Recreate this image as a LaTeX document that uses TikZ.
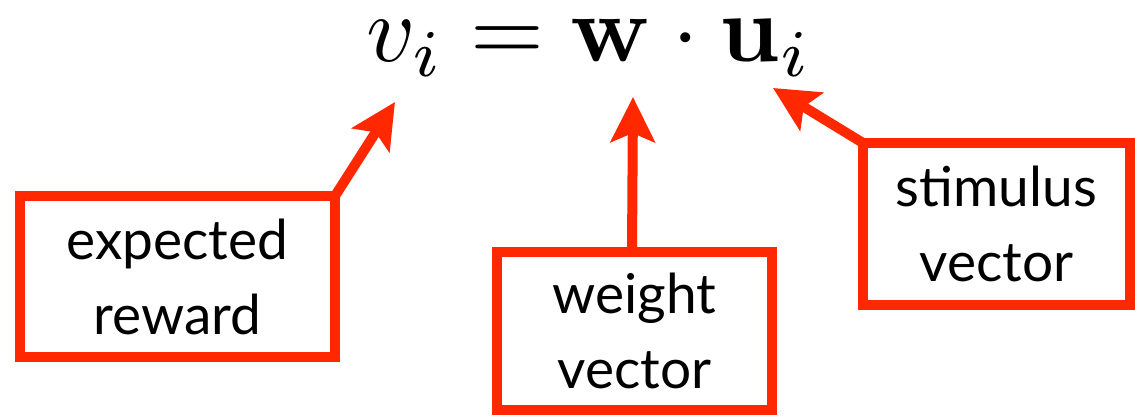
\documentclass[tikz,border=0pt]{standalone}
\usepackage[no-math]{fontspec}
\setmainfont{Lato}
\usetikzlibrary{arrows.meta}
\definecolor{boxred}{RGB}{255,40,0}
\begin{document}
\begin{tikzpicture}[x=1pt,y=-1pt,
  labelbox/.style={draw=boxred,line width=10pt,rectangle,inner sep=0pt,outer sep=0pt,
    align=center,font=\fontsize{55}{75}\selectfont,text=black},
  pointer/.style={draw=boxred,line width=10pt,
    -{Stealth[length=45pt,width=44pt,inset=9pt]}}]
\useasboundingbox (0,0) rectangle (1135,417);
\node[scale=9.5,anchor=base,inner sep=0pt] (eq) at (589,62) {$v_i = \mathbf{w}\cdot\mathbf{u}_i$};
\node[labelbox,minimum width=315pt,minimum height=161pt] (b1) at (177.5,276.5) {expected\\reward};
\node[labelbox,minimum width=275pt,minimum height=158pt] (b2) at (634.5,331) {weight\\vector};
\node[labelbox,minimum width=267pt,minimum height=162pt] (b3) at (996.5,224) {stimulus\\vector};
\coordinate (t1) at (395,102);
\coordinate (t2) at (633,97);
\coordinate (t3) at (773,88);
\coordinate (s2) at (632,252);
\draw[pointer] (b1.north east) -- (t1);
\draw[pointer] (s2) -- (t2);
\draw[pointer] (b3.north west) -- (t3);
\end{tikzpicture}
\end{document}
